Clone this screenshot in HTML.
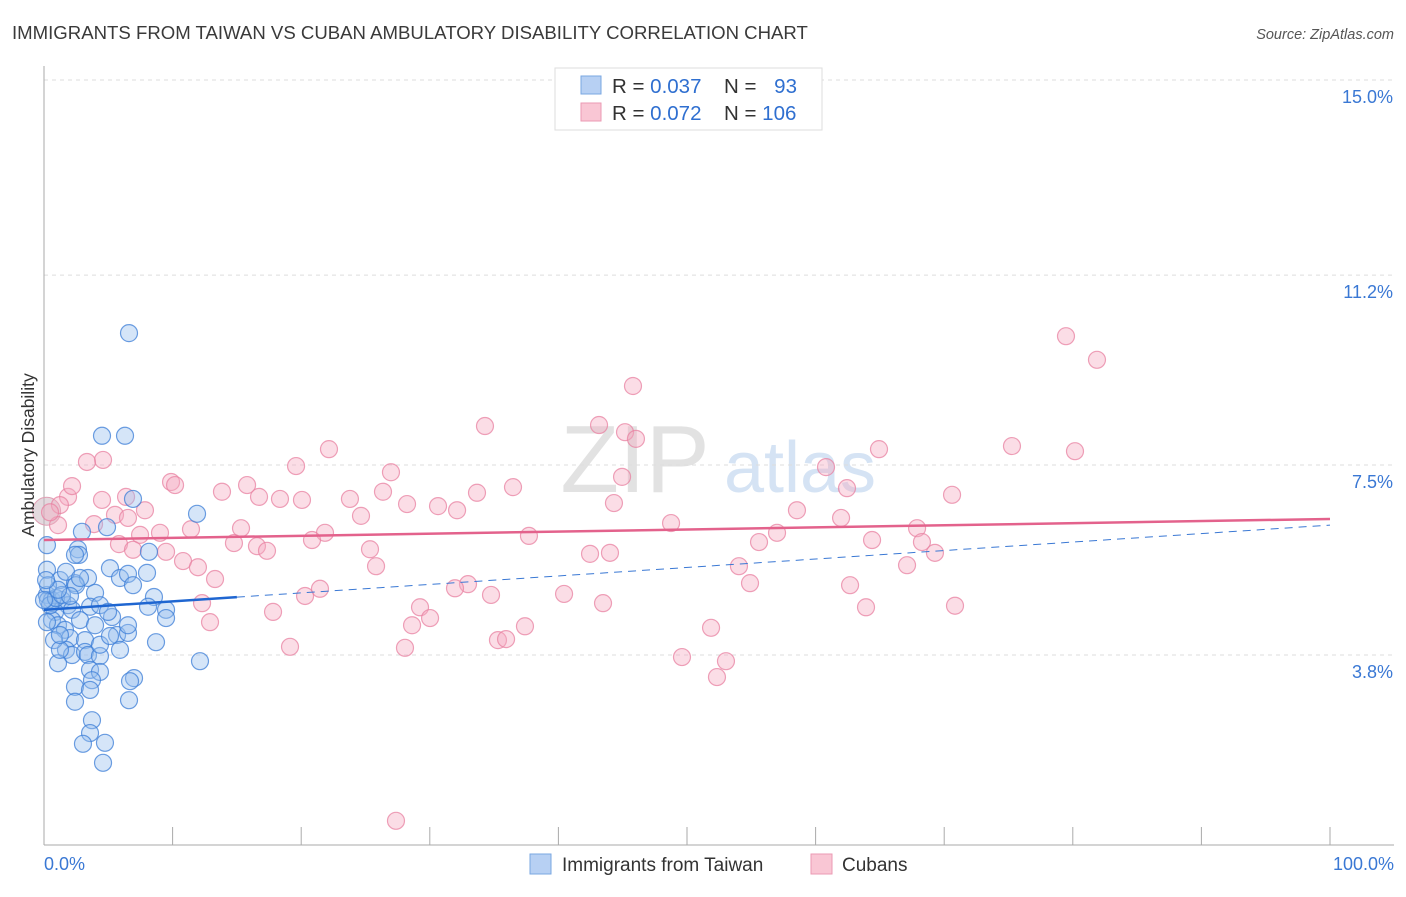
<!DOCTYPE html>
<html><head><meta charset="utf-8"><style>
body{margin:0;background:#fff;font-family:"Liberation Sans",sans-serif}
svg text{font-family:"Liberation Sans",sans-serif}
</style></head><body>
<svg id="chart" width="1406" height="892" xmlns="http://www.w3.org/2000/svg">
<text x="12" y="39" font-size="18.6" fill="#3a3a3a">IMMIGRANTS FROM TAIWAN VS CUBAN AMBULATORY DISABILITY CORRELATION CHART</text>
<text x="1394" y="39" font-size="14.5" fill="#555" text-anchor="end" font-style="italic">Source: ZipAtlas.com</text>
<text x="635" y="492" font-size="96" fill="#e2e2e2" font-family="Liberation Serif" text-anchor="middle">ZIP</text>
<text x="800" y="492" font-size="72" fill="#d5e3f4" text-anchor="middle">atlas</text>
<g id="grid"></g>
<g id="axes"></g>
<g id="pts"></g>
<g id="trends"></g>
<text transform="translate(34,455) rotate(-90)" font-size="17.5" fill="#333" text-anchor="middle">Ambulatory Disability</text>
<g>
<rect x="555" y="68" width="267" height="62" fill="#fff" stroke="#ddd"/>
<rect x="581" y="76" width="20" height="18" fill="#b7d0f3" stroke="#7aa7e2"/>
<rect x="581" y="103" width="20" height="18" fill="#f9c6d4" stroke="#eb9ab3"/>
<text x="612" y="93" font-size="20.5" fill="#333">R = <tspan fill="#2f6fd0">0.037</tspan></text>
<text x="724" y="93" font-size="20.5" fill="#333">N = <tspan fill="#2f6fd0" dx="12">93</tspan></text>
<text x="612" y="120" font-size="20.5" fill="#333">R = <tspan fill="#2f6fd0">0.072</tspan></text>
<text x="724" y="120" font-size="20.5" fill="#333">N = <tspan fill="#2f6fd0">106</tspan></text>
</g>
<g>
<rect x="530" y="854" width="21" height="20" fill="#b7d0f3" stroke="#7aa7e2"/>
<text x="562" y="871" font-size="19" fill="#333">Immigrants from Taiwan</text>
<rect x="811" y="854" width="21" height="20" fill="#f9c6d4" stroke="#eb9ab3"/>
<text x="842" y="871" font-size="19" fill="#333">Cubans</text>
</g>
</svg>
<script>
const yTicks=[3.8,7.5,11.2,15.0];
const yTickLabels=["3.8%","7.5%","11.2%","15.0%"];
const xTickLabels=["0.0%","100.0%"];
const taiwanX=[6.61,4.51,6.30,6.92,11.90,4.90,2.95,0.23,2.64,2.72,8.16,5.13,0.23,1.24,2.41,3.42,5.91,6.53,8.01,6.92,2.49,0.23,0.62,1.40,1.87,0.86,2.18,3.97,3.58,8.55,8.09,9.49,9.49,5.29,0.62,1.09,1.63,2.80,2.02,3.19,5.68,6.53,6.53,8.71,1.71,2.18,3.19,3.42,4.35,12.13,1.09,3.58,4.35,3.73,7.00,6.69,2.41,3.58,6.61,2.41,3.73,3.58,3.03,4.74,4.59,0.31,0.47,0.93,1.40,2.02,0.31,1.09,1.71,2.80,2.41,4.35,4.98,0.23,0.78,1.24,0.0,0.16,4.35,1.24,5.13,3.97,5.91];
const taiwanY=[10.07,8.07,8.07,6.84,6.55,6.29,6.20,5.94,5.86,5.75,5.81,5.49,5.46,5.26,5.20,5.30,5.30,5.38,5.40,5.16,5.16,4.97,4.87,4.87,4.77,4.64,4.68,5.01,4.74,4.93,4.74,4.68,4.52,4.54,4.48,4.38,4.29,4.48,4.13,4.09,4.19,4.23,4.38,4.05,3.90,3.80,3.86,3.80,3.78,3.68,3.64,3.51,3.47,3.31,3.35,3.29,3.18,3.12,2.92,2.89,2.53,2.28,2.07,2.09,1.70,4.87,4.77,4.91,4.97,4.95,5.16,5.07,5.42,5.30,5.75,4.77,4.64,4.44,4.09,3.90,4.87,5.26,4.00,4.19,4.17,4.38,3.90];
const cubansX=[79.47,81.88,45.80,34.29,43.16,45.18,46.03,64.93,75.27,80.17,22.16,4.59,3.34,19.60,26.98,60.81,44.95,9.88,10.19,15.79,13.84,36.47,26.36,33.67,62.44,70.61,1.87,2.18,1.24,4.51,6.38,16.72,18.35,20.06,23.79,28.23,30.64,32.12,44.32,7.85,24.65,58.55,5.52,6.53,3.89,1.09,0.47,48.76,61.98,67.89,11.43,15.32,9.02,7.47,21.85,37.71,57.00,20.84,14.77,16.56,5.83,6.92,9.49,17.34,64.39,55.60,68.27,25.35,69.28,42.46,44.01,10.81,11.97,25.82,54.04,67.11,13.30,32.97,31.96,21.46,54.90,62.68,20.30,34.76,40.44,12.29,43.47,63.92,70.84,17.81,29.24,30.02,28.62,12.91,37.40,51.87,35.30,35.93,19.13,28.07,49.61,53.03,52.33,27.37];
const cubansY=[10.01,9.55,9.04,8.26,8.28,8.14,8.01,7.81,7.87,7.77,7.81,7.60,7.56,7.48,7.36,7.46,7.27,7.17,7.11,7.11,6.98,7.07,6.98,6.96,7.05,6.92,6.88,7.09,6.72,6.82,6.88,6.88,6.84,6.82,6.84,6.74,6.70,6.62,6.76,6.62,6.51,6.62,6.53,6.47,6.35,6.33,6.58,6.37,6.47,6.27,6.25,6.27,6.18,6.14,6.18,6.12,6.18,6.04,5.98,5.92,5.96,5.85,5.81,5.83,6.04,6.00,6.00,5.86,5.79,5.77,5.79,5.63,5.51,5.53,5.53,5.55,5.28,5.18,5.10,5.09,5.20,5.16,4.95,4.97,4.99,4.81,4.81,4.73,4.76,4.64,4.73,4.52,4.38,4.44,4.36,4.33,4.09,4.11,3.96,3.94,3.76,3.68,3.37,0.57];
const taiwanTrend=[4.68,6.33];
const cubansTrend=[6.04,6.45];
const NS="http://www.w3.org/2000/svg";
function X(v){return 44+v*12.86;}
function Y(v){return 80+(15-v)*51.34;}
function mk(tag,attrs,parent){const e=document.createElementNS(NS,tag);for(const k in attrs)e.setAttribute(k,attrs[k]);parent.appendChild(e);return e;}
const grid=document.getElementById('grid'),axes=document.getElementById('axes'),pts=document.getElementById('pts'),tr=document.getElementById('trends');
yTicks.forEach((t,i)=>{
 const l=mk('line',{x1:44,x2:1394,y1:Y(t),y2:Y(t),stroke:'#ddd','stroke-dasharray':'4,4'},grid);
 
 
 const tx=mk('text',{x:1393,y:Y(t)+23,'font-size':18,fill:'#3a78d4','text-anchor':'end'},axes);
 tx.textContent=yTickLabels[i];
 
 
});
const ya=mk('line',{x1:44,x2:44,y1:66,y2:845,stroke:'#aaa'},axes);


const xa=mk('line',{x1:44,x2:1394,y1:845,y2:845,stroke:'#aaa'},axes);


for(let i=0;i<=10;i++){
 const tk=mk('line',{x1:X(i*10),x2:X(i*10),y1:827,y2:845,stroke:'#aaa'},axes);
 
 
}
[[0,'start',44],[100,'end',1394]].forEach((d,i)=>{
 const tx=mk('text',{x:d[2],y:870,'font-size':18,fill:'#3a78d4','text-anchor':d[1]},axes);
 tx.textContent=xTickLabels[i];
 
 
});
const big=mk('circle',{cx:X(0.2),cy:Y(6.6),r:14,fill:'rgba(200,180,190,0.5)',stroke:'#e0a0b5'},pts);


cubansX.forEach((x,i)=>{
 const c=mk('circle',{cx:X(x),cy:Y(cubansY[i]),r:8.5,fill:'rgba(245,170,192,0.4)',stroke:'rgba(232,130,162,0.75)','stroke-width':1.2},pts);
 
 
});
taiwanX.forEach((x,i)=>{
 const c=mk('circle',{cx:X(x),cy:Y(taiwanY[i]),r:8.5,fill:'rgba(150,190,238,0.4)',stroke:'rgba(60,125,215,0.75)','stroke-width':1.2},pts);
 
 
});
const slope=(taiwanTrend[1]-taiwanTrend[0])/100;
const td=mk('line',{x1:X(15),y1:Y(taiwanTrend[0]+slope*15),x2:X(100),y2:Y(taiwanTrend[1]),stroke:'#3a78d4','stroke-width':1,'stroke-dasharray':'8,6'},tr);


const ts=mk('line',{x1:X(0),y1:Y(taiwanTrend[0]),x2:X(15),y2:Y(taiwanTrend[0]+slope*15),stroke:'#1f66d1','stroke-width':2.5},tr);


const cl=mk('line',{x1:X(0),y1:Y(cubansTrend[0]),x2:X(100),y2:Y(cubansTrend[1]),stroke:'#e3628c','stroke-width':2.5},tr);


</script>
</body></html>
